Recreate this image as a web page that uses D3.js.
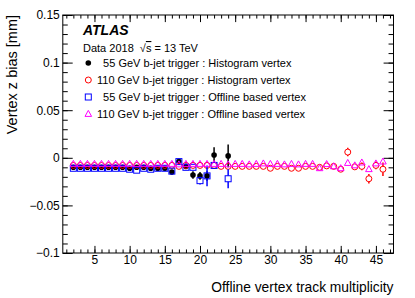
<!DOCTYPE html>
<html>
<head>
<meta charset="utf-8">
<script src="https://cdn.jsdelivr.net/npm/d3@7"></script>
<style>
  body { margin: 0; background: #fff; }
  svg { display: block; font-family: "Liberation Sans", Arial, Helvetica, sans-serif; }
  .tick line { stroke: #000; }
  .tick text { font-size: 12px; fill: #000; }
  .legend text { font-size: 11px; white-space: pre; }
</style>
</head>
<body>
<svg id="chart"></svg>
<script>
// Bins of track multiplicity
const x55 = [2, 3, 4, 5, 6, 7, 8, 9, 10, 11, 12, 13, 14, 15, 16, 17, 18, 19, 20, 21, 22, 24];
const x110 = d3.range(2, 47);

// 55 GeV b-jet trigger : Histogram vertex
const hist55 = [-0.010, -0.010, -0.010, -0.010, -0.010, -0.010, -0.010, -0.010, -0.011, -0.010, -0.010, -0.011,
  -0.011, -0.011, -0.015, -0.004, -0.009, -0.018, -0.019, -0.019, 0.003, 0.002];
const hist55Err = [0.001, 0.001, 0.001, 0.001, 0.001, 0.001, 0.001, 0.001, 0.001, 0.001, 0.001, 0.001,
  0.001, 0.001, 0.002, 0.002, 0.002, 0.004, 0.004, 0.005, 0.008, 0.012];

// 55 GeV b-jet trigger : Offline based vertex
const off55 = [-0.011, -0.011, -0.011, -0.011, -0.011, -0.011, -0.011, -0.011, -0.012, -0.013, -0.011, -0.012,
  -0.011, -0.011, -0.014, -0.004, -0.010, -0.010, -0.024, -0.019, -0.008, -0.022];
const off55Err = [0.001, 0.001, 0.001, 0.001, 0.001, 0.001, 0.001, 0.001, 0.001, 0.001, 0.001, 0.001,
  0.001, 0.001, 0.002, 0.002, 0.002, 0.003, 0.004, 0.011, 0.003, 0.010];

// 110 GeV b-jet trigger : Histogram vertex (bins 2..46)
const hist110 = [
  -0.008, -0.008, -0.008, -0.008, -0.008, -0.008, -0.008, -0.008, -0.008, -0.008,   // 2-11
  -0.008, -0.008, -0.008, -0.008, -0.008, -0.009, -0.008, -0.008, -0.008, -0.008,   // 12-21
  -0.008, -0.009, -0.009, -0.009, -0.009, -0.009, -0.009, -0.009, -0.011, -0.009,   // 22-31
  -0.009, -0.011, -0.011, -0.009, -0.009, -0.010, -0.0085, -0.009, -0.012, 0.006,   // 32-41
  -0.0095, -0.009, -0.022, -0.008, -0.012                                            // 42-46
];
const hist110Err = [
  0.001, 0.001, 0.001, 0.001, 0.001, 0.001, 0.001, 0.001, 0.001, 0.001,
  0.001, 0.001, 0.001, 0.001, 0.001, 0.001, 0.001, 0.001, 0.001, 0.001,
  0.001, 0.001, 0.001, 0.001, 0.001, 0.001, 0.001, 0.001, 0.001, 0.001,
  0.001, 0.001, 0.001, 0.001, 0.001, 0.001, 0.001, 0.001, 0.002, 0.0045,
  0.002, 0.004, 0.005, 0.004, 0.007
];

// 110 GeV b-jet trigger : Offline based vertex (bins 2..46)
const off110 = [
  -0.0065, -0.0065, -0.0065, -0.0065, -0.0065, -0.0065, -0.0065, -0.0065, -0.0065, -0.0065,   // 2-11
  -0.0065, -0.0065, -0.0065, -0.0065, -0.0065, -0.007, -0.0065, -0.0065, -0.0065, -0.0065,    // 12-21
  -0.0065, -0.0065, -0.007, -0.0065, -0.0065, -0.007, -0.0065, -0.006, -0.0065, -0.0065,      // 22-31
  -0.007, -0.0065, -0.007, -0.0065, -0.0065, -0.011, -0.0067, -0.009, -0.011, -0.0055,        // 32-41
  -0.008, -0.005, -0.012, -0.006, -0.004                                                       // 42-46
];
const off110Err = [
  0.001, 0.001, 0.001, 0.001, 0.001, 0.001, 0.001, 0.001, 0.001, 0.001,
  0.001, 0.001, 0.001, 0.001, 0.001, 0.001, 0.001, 0.001, 0.001, 0.001,
  0.001, 0.001, 0.001, 0.001, 0.001, 0.001, 0.001, 0.001, 0.001, 0.001,
  0.001, 0.001, 0.001, 0.001, 0.001, 0.001, 0.001, 0.001, 0.002, 0.002,
  0.002, 0.003, 0.003, 0.003, 0.003
];

const legendLabels = [
  "  55 GeV b-jet trigger : Histogram vertex",
  "110 GeV b-jet trigger : Histogram vertex",
  "  55 GeV b-jet trigger : Offline based vertex",
  "110 GeV b-jet trigger : Offline based vertex"
];

const xMajor = [5, 10, 15, 20, 25, 30, 35, 40, 45];
const yMajor = [-0.1, -0.05, 0, 0.05, 0.1, 0.15];

const W = 415, H = 298;
const margin = { left: 62.8, right: 21.5, top: 15, bottom: 45 };
const w = W - margin.left - margin.right;
const h = H - margin.top - margin.bottom;

const svg = d3.select('#chart').attr('width', W).attr('height', H);
const g = svg.append('g').attr('transform', `translate(${margin.left},${margin.top})`);

const x = d3.scaleLinear().domain([0.5, 47.5]).range([0, w]);
const y = d3.scaleLinear().domain([-0.1, 0.15]).range([h, 0]);

const xMinor = d3.range(1, 48);
const yMinor = d3.ticks(-0.1, 0.15, 25);
const xTick = 7.1, yTick = 9.9;

function drawAxis(axis, transform) {
  const a = g.append('g').attr('transform', transform).call(axis);
  a.select('.domain').remove();
  return a;
}

// bottom / top
drawAxis(d3.axisBottom(x).tickValues(xMinor).tickSize(-xTick / 2).tickFormat(''), `translate(0,${h})`);
drawAxis(d3.axisBottom(x).tickValues(xMajor).tickSize(-xTick).tickPadding(2), `translate(0,${h})`);
drawAxis(d3.axisTop(x).tickValues(xMinor).tickSize(-xTick / 2).tickFormat(''), 'translate(0,0)');
drawAxis(d3.axisTop(x).tickValues(xMajor).tickSize(-xTick).tickFormat(''), 'translate(0,0)');

// left / right
drawAxis(d3.axisLeft(y).tickValues(yMinor).tickSize(-yTick / 2).tickFormat(''), 'translate(0,0)');
drawAxis(d3.axisLeft(y).tickValues(yMajor).tickSize(-yTick).tickPadding(3).tickFormat(d3.format('~g')), 'translate(0,0)');
drawAxis(d3.axisRight(y).tickValues(yMinor).tickSize(-yTick / 2).tickFormat(''), `translate(${w},0)`);
drawAxis(d3.axisRight(y).tickValues(yMajor).tickSize(-yTick).tickFormat(''), `translate(${w},0)`);

g.append('rect')
  .attr('width', w).attr('height', h)
  .attr('fill', 'none').attr('stroke', '#000').attr('stroke-width', 1);

// axis titles
svg.append('text')
  .attr('x', margin.left + w).attr('y', 292)
  .attr('text-anchor', 'end').attr('font-size', 13.8)
  .text('Offline vertex track multiplicity');

svg.append('text')
  .attr('transform', `translate(17,${margin.top}) rotate(-90)`)
  .attr('text-anchor', 'end').attr('font-size', 14.5)
  .text('Vertex z bias [mm]');

// marker shapes
const R = 3;
function marker(sel, type, color) {
  if (type === 'dot') {
    sel.append('circle').attr('r', 2.8).attr('fill', color);
  } else if (type === 'circle') {
    sel.append('circle').attr('r', R).attr('fill', 'none').attr('stroke', color).attr('stroke-width', 1);
  } else if (type === 'square') {
    sel.append('rect').attr('x', -R).attr('y', -R).attr('width', 2 * R).attr('height', 2 * R)
      .attr('fill', 'none').attr('stroke', color).attr('stroke-width', 1);
  } else if (type === 'triangle') {
    sel.append('path').attr('d', 'M0,-3.6L3.3,2.4L-3.3,2.4Z')
      .attr('fill', 'none').attr('stroke', color).attr('stroke-width', 1);
  }
}

const series = [
  { xs: x55, vals: hist55, errs: hist55Err, type: 'dot', color: '#000000' },
  { xs: x110, vals: hist110, errs: hist110Err, type: 'circle', color: '#ff0000' },
  { xs: x55, vals: off55, errs: off55Err, type: 'square', color: '#0000ff' },
  { xs: x110, vals: off110, errs: off110Err, type: 'triangle', color: '#ff00ff' }
];

series.forEach(s => {
  const pts = s.xs.map((xv, i) => ({ x: xv, v: s.vals[i], e: s.errs[i] }));
  const grp = g.append('g');
  const gap = s.type === 'dot' ? 0 : R;
  // error bars (outside the marker)
  pts.forEach(p => {
    const cy = y(p.v), top = y(p.v + p.e), bot = y(p.v - p.e);
    if (cy - top > gap) {
      grp.append('line').attr('x1', x(p.x)).attr('x2', x(p.x))
        .attr('y1', top).attr('y2', cy - gap)
        .attr('stroke', s.color).attr('stroke-width', 1.5);
    }
    if (bot - cy > gap) {
      grp.append('line').attr('x1', x(p.x)).attr('x2', x(p.x))
        .attr('y1', cy + gap).attr('y2', bot)
        .attr('stroke', s.color).attr('stroke-width', 1.5);
    }
  });
  const m = grp.selectAll('.m').data(pts).enter().append('g')
    .attr('transform', p => `translate(${x(p.x)},${y(p.v)})`);
  marker(m, s.type, s.color);
});

// labels and legend
svg.append('text')
  .attr('x', 83).attr('y', 35)
  .attr('font-size', 14).attr('font-weight', 'bold').attr('font-style', 'italic')
  .text('ATLAS');

const info = svg.append('text').attr('x', 83).attr('y', 52).attr('font-size', 11);
info.append('tspan').text('Data 2018  ');
info.append('tspan').attr('dx', 3).text('\u221A');
info.append('tspan').attr('text-decoration', 'overline').text('s');
info.append('tspan').text(' = 13 TeV');

const legend = svg.append('g').attr('class', 'legend');
legendLabels.forEach((label, i) => {
  const yy = 67 + i * 17;
  const mk = legend.append('g').attr('transform', `translate(88.3,${yy - 4})`);
  marker(mk, series[i].type, series[i].color);
  legend.append('text').attr('x', 97).attr('y', yy).text(label);
});
</script>
</body>
</html>
